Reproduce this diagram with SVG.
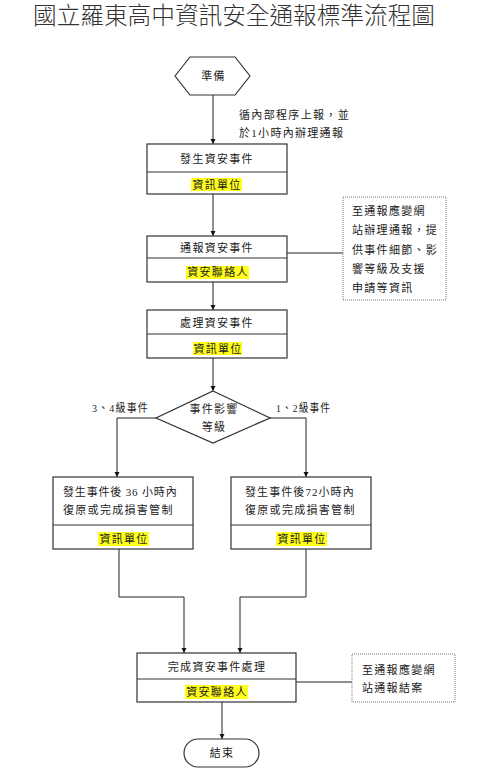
<svg xmlns="http://www.w3.org/2000/svg" width="483" height="772" viewBox="0 0 483 772">
<defs>
<marker id="arr" viewBox="0 0 10 10" refX="10" refY="5" markerWidth="5" markerHeight="6" orient="auto" markerUnits="userSpaceOnUse">
<path d="M0,0 L10,5 L0,10 z" fill="#111"/>
</marker>
</defs>
<style>
text{font-family:"Liberation Serif","Noto Sans CJK TC",serif;fill:#222;dominant-baseline:central}
.t{font-size:11px;letter-spacing:1.3px}
.c{text-anchor:middle}
.title{font-size:24px;font-weight:300;fill:#333}
.box{fill:#fff;stroke:#333;stroke-width:1.2}
.note{fill:#fff;stroke:#777;stroke-width:1;stroke-dasharray:1 1}
.hl{fill:#ffff1a}
.ln{fill:none;stroke:#222;stroke-width:1}
</style>
<rect width="483" height="772" fill="#fff"/>
<text class="title" x="33" y="16" textLength="402" lengthAdjust="spacingAndGlyphs">國立羅東高中資訊安全通報標準流程圖</text>

<g id="connectors">
<path class="ln" d="M213,95 V144" marker-end="url(#arr)"/>
<path class="ln" d="M213,194 V236" marker-end="url(#arr)"/>
<path class="ln" d="M213,282 V310" marker-end="url(#arr)"/>
<path class="ln" d="M287,253 H343"/>
<path class="ln" d="M213,358 V391" marker-end="url(#arr)"/>
<path class="ln" d="M156,418 H117 V477" marker-end="url(#arr)"/>
<path class="ln" d="M270,418 H306 V477" marker-end="url(#arr)"/>
<path class="ln" d="M119,549 V597 H184 V653" marker-end="url(#arr)"/>
<path class="ln" d="M306,549 V597 H240 V653" marker-end="url(#arr)"/>
<path class="ln" d="M296,682 H352"/>
<path class="ln" d="M222,702 V739" marker-end="url(#arr)"/>
</g>

<g id="start">
<polygon class="box" points="175,76 190,57 235,57 250,76 235,95 190,95"/>
<text class="t c" x="213.6" y="76">準備</text>
</g>

<g id="note-report">
<text class="t" x="239" y="115" textLength="111">循內部程序上報，並</text>
<text class="t" x="239" y="133">於1小時內辦理通報</text>
</g>

<g id="n1">
<rect class="box" x="147" y="144" width="140" height="50"/>
<line class="box" x1="147" y1="172" x2="287" y2="172"/>
<text class="t c" x="217" y="159">發生資安事件</text>
<rect class="hl" x="191" y="178" width="51" height="13"/>
<text class="t c" x="217" y="184.5">資訊單位</text>
</g>

<g id="n2">
<rect class="box" x="147" y="236" width="140" height="46"/>
<line class="box" x1="147" y1="258" x2="287" y2="258"/>
<text class="t c" x="217" y="248">通報資安事件</text>
<rect class="hl" x="186" y="266" width="63" height="13"/>
<text class="t c" x="218" y="272">資安聯絡人</text>
</g>

<g id="note1">
<rect class="note" x="343" y="197" width="103" height="103"/>
<text class="t" x="352" y="211">至通報應變網</text>
<text class="t" x="352" y="230">站辦理通報，提</text>
<text class="t" x="352" y="250">供事件細節、影</text>
<text class="t" x="352" y="269">響等級及支援</text>
<text class="t" x="352" y="288">申請等資訊</text>
</g>

<g id="n3">
<rect class="box" x="147" y="310" width="140" height="48"/>
<line class="box" x1="147" y1="334" x2="287" y2="334"/>
<text class="t c" x="217" y="323">處理資安事件</text>
<rect class="hl" x="193" y="342" width="49" height="13"/>
<text class="t c" x="218" y="348.5">資訊單位</text>
</g>

<g id="decision">
<polygon class="box" points="213,391 270,418 213,443 156,418"/>
<text class="t c" x="214" y="409">事件影響</text>
<text class="t c" x="214" y="427">等級</text>
</g>

<g id="labels">
<text class="t" x="92" y="408" textLength="57" lengthAdjust="spacingAndGlyphs">3、4級事件</text>
<text class="t" x="276" y="408" textLength="55" lengthAdjust="spacingAndGlyphs">1、2級事件</text>
</g>

<g id="n4">
<rect class="box" x="53" y="477" width="140" height="72"/>
<line class="box" x1="53" y1="525" x2="193" y2="525"/>
<text class="t" x="63" y="492" textLength="115">發生事件後 36 小時內</text>
<text class="t" x="63" y="510">復原或完成損害管制</text>
<rect class="hl" x="98" y="532" width="51" height="14"/>
<text class="t c" x="124" y="539">資訊單位</text>
</g>

<g id="n5">
<rect class="box" x="231" y="477" width="140" height="72"/>
<line class="box" x1="231" y1="525" x2="371" y2="525"/>
<text class="t" x="245" y="492" textLength="110">發生事件後72小時內</text>
<text class="t" x="245" y="510">復原或完成損害管制</text>
<rect class="hl" x="276" y="532" width="51" height="14"/>
<text class="t c" x="302" y="539">資訊單位</text>
</g>

<g id="n6">
<rect class="box" x="137" y="653" width="159" height="49"/>
<line class="box" x1="137" y1="679" x2="296" y2="679"/>
<text class="t c" x="217" y="667">完成資安事件處理</text>
<rect class="hl" x="185" y="685" width="63" height="14"/>
<text class="t c" x="217" y="692">資安聯絡人</text>
</g>

<g id="note2">
<rect class="note" x="352" y="654" width="103" height="48"/>
<text class="t" x="362" y="670">至通報應變網</text>
<text class="t" x="362" y="688">站通報結案</text>
</g>

<g id="end">
<rect class="box" x="184" y="739" width="75" height="28" rx="14"/>
<text class="t c" x="222" y="753">結束</text>
</g>
</svg>
